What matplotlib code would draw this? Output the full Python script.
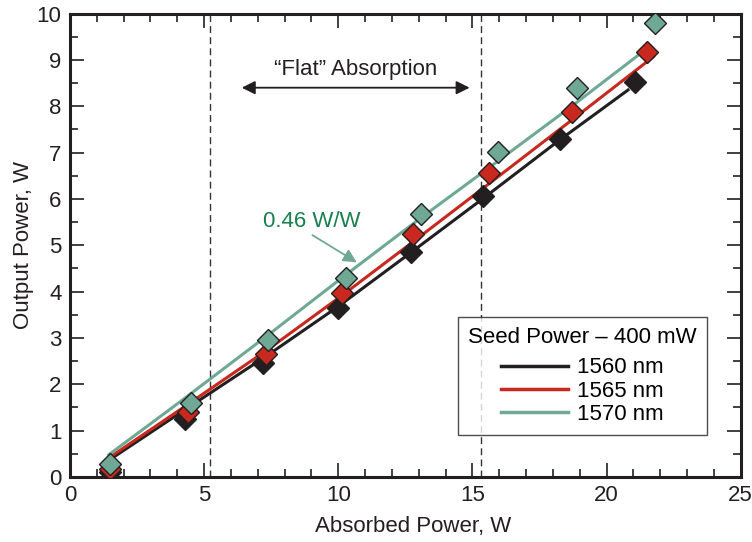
import numpy as np
import matplotlib.pyplot as plt
from matplotlib.ticker import MultipleLocator

plt.rcParams['font.family'] = ['Liberation Sans', 'DejaVu Sans']

# measured points (diamonds)
x_1560 = [1.5, 4.3, 7.2, 10.0, 12.7, 15.4, 18.25, 21.05]
y_1560 = [0.1, 1.25, 2.45, 3.65, 4.85, 6.07, 7.3, 8.52]
x_1565 = [1.5, 4.4, 7.3, 10.15, 12.8, 15.6, 18.7, 21.5]
y_1565 = [0.18, 1.4, 2.65, 3.97, 5.25, 6.55, 7.87, 9.18]
x_1570 = [1.5, 4.5, 7.4, 10.3, 13.1, 15.95, 18.9, 21.8]
y_1570 = [0.27, 1.6, 2.95, 4.3, 5.67, 7.02, 8.4, 9.8]

# fitted curves
fx_1560 = [1.45, 4.1, 7.4, 10.0, 12.7, 15.33, 18.2, 20.8]
fy_1560 = [0.36, 1.38, 2.64, 3.68, 4.84, 5.98, 7.25, 8.35]
fx_1565 = [1.45, 4.1, 7.4, 10.15, 12.8, 15.33, 18.7, 21.75]
fy_1565 = [0.41, 1.45, 2.76, 3.92, 5.08, 6.2, 7.7, 9.07]
fx_1570 = [1.45, 4.1, 7.4, 10.3, 13.1, 15.33, 18.7, 21.45]
fy_1570 = [0.48, 1.62, 3.07, 4.37, 5.6, 6.55, 8.0, 9.22]

flat_edges = [5.22, 15.33]
labels = ['1560 nm', '1565 nm', '1570 nm']
colors = ['#231f20', '#c8281e', '#6fa895']

fig = plt.figure(figsize=(7.52, 5.42), dpi=100)
ax = fig.add_axes([0.093, 0.12, 0.892, 0.855])

fits = [(fx_1560, fy_1560), (fx_1565, fy_1565), (fx_1570, fy_1570)]
pts = [(x_1560, y_1560), (x_1565, y_1565), (x_1570, y_1570)]

for (fx, fy), c, lab in zip(fits, colors, labels):
    ax.plot(fx, fy, color=c, lw=2.2, label=lab, zorder=2)
for (px, py), c in zip(pts, colors):
    ax.plot(px, py, ls='none', marker='D', ms=11.5, mfc=c, mec='#231f20',
            mew=1.0, zorder=3)

for xv in flat_edges:
    ax.axvline(xv, color='#333333', ls=(0, (5, 3)), lw=1.0, zorder=1)

ax.annotate('', xy=(6.3, 8.4), xytext=(15.0, 8.4),
            arrowprops=dict(arrowstyle='<|-|>', color='#231f20', lw=1.3,
                            mutation_scale=20))
ax.text(10.66, 8.8, '\u201cFlat\u201d Absorption', ha='center', va='center',
        fontsize=16, color='#231f20')

ax.annotate('', xy=(10.78, 4.6), xytext=(8.95, 5.25),
            arrowprops=dict(arrowstyle='-|>', color='#6fa895', lw=1.3,
                            mutation_scale=20))
ax.text(7.2, 5.52, '0.46 W/W', ha='left', va='center', fontsize=16,
        color='#1a7f4e')

ax.set_xlim(0, 25)
ax.set_ylim(0, 10)
ax.xaxis.set_major_locator(MultipleLocator(5))
ax.xaxis.set_minor_locator(MultipleLocator(1))
ax.yaxis.set_major_locator(MultipleLocator(1))
ax.yaxis.set_minor_locator(MultipleLocator(0.5))
ax.tick_params(which='both', direction='in', top=True, right=True,
               labelsize=16, colors='#231f20', width=1.2)
ax.tick_params(which='major', length=10, pad=6)
ax.tick_params(which='minor', length=6)
for s in ax.spines.values():
    s.set_linewidth(2.2)
    s.set_color('#231f20')

ax.set_xlabel('Absorbed Power, W', fontsize=16, color='#231f20', labelpad=10)
ax.set_ylabel('Output Power, W', fontsize=16, color='#231f20', labelpad=2)
ax.xaxis.set_label_coords(0.512, -0.085)

leg = ax.legend(title='Seed Power \u2013 400 mW', loc='lower right',
                bbox_to_anchor=(0.949, 0.091), borderaxespad=0.0,
                fontsize=16, title_fontsize=16,
                frameon=True, fancybox=False, edgecolor='#231f20',
                handlelength=3.0, handletextpad=0.4, labelspacing=0.1,
                borderpad=0.45)
leg.get_frame().set_linewidth(1.0)
leg._legend_box.sep = 7
for h in leg.get_lines():
    h.set_linewidth(2.5)

fig.savefig('out.png', dpi=100)
